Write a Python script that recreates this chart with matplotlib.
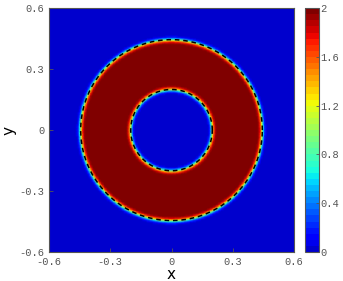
import numpy as np
import matplotlib
matplotlib.use("Agg")
import matplotlib.pyplot as plt
from matplotlib.colors import ListedColormap

# annulus phase field
r_inner = 0.2
r_outer = 0.445
phi_max = 2.0
interface_width = 0.011
domain = [-0.6, 0.6]
xticks = [-0.6, -0.3, 0, 0.3, 0.6]
yticks = [-0.6, -0.3, 0, 0.3, 0.6]
tick_labels = ["-0.6", "-0.3", "0", "0.3", "0.6"]
cbar_ticks = [0, 0.4, 0.8, 1.2, 1.6, 2]
cbar_labels = ["0", "0.4", "0.8", "1.2", "1.6", "2"]

n = 160
x = np.linspace(domain[0], domain[1], n)
X, Y = np.meshgrid(x, x)
R = np.sqrt(X**2 + Y**2)
phi = 0.5 * phi_max * (np.tanh((R - r_inner) / interface_width)
                       - np.tanh((R - r_outer) / interface_width))

jet = plt.get_cmap("jet")
cmap = ListedColormap(jet(np.linspace(0.07, 1.0, 40)))

plt.rcParams["font.family"] = "Liberation Mono"
tick_col = "#555555"

fig = plt.figure(figsize=(3.43, 2.81), dpi=100)
ax = fig.add_axes([0.143, 0.103, 0.714, 0.868])
cax = fig.add_axes([0.889, 0.103, 0.041, 0.868])

im = ax.pcolormesh(X, Y, phi, cmap=cmap, vmin=0, vmax=phi_max, shading="gouraud")

t = np.linspace(0, 2 * np.pi, 400)
for r in [r_inner, r_outer]:
    ax.plot(r * np.cos(t), r * np.sin(t), color="black", lw=1.1, ls=(0, (3, 2.5)))

ax.set_xlim(domain)
ax.set_ylim(domain)
ax.set_xticks(xticks)
ax.set_yticks(yticks)
ax.set_xticklabels(tick_labels)
ax.set_yticklabels(tick_labels)
ax.tick_params(direction="in", length=3, width=0.6, colors=tick_col, labelsize=7.5,
               labelcolor=tick_col, top=False, right=False)
for s in ax.spines.values():
    s.set_color(tick_col)
    s.set_linewidth(0.8)
ax.set_xlabel("x", fontsize=11, labelpad=0, family="DejaVu Sans")
ax.set_ylabel("y", fontsize=11, labelpad=2, family="DejaVu Sans")

cb = fig.colorbar(im, cax=cax, ticks=cbar_ticks)
cb.ax.set_yticklabels(cbar_labels)
cb.ax.tick_params(direction="in", length=2, width=0.6, colors=tick_col, labelsize=7.5,
                  labelcolor=tick_col, pad=1)
cb.outline.set_edgecolor(tick_col)
cb.outline.set_linewidth(0.8)

fig.savefig("out.png", dpi=100)
